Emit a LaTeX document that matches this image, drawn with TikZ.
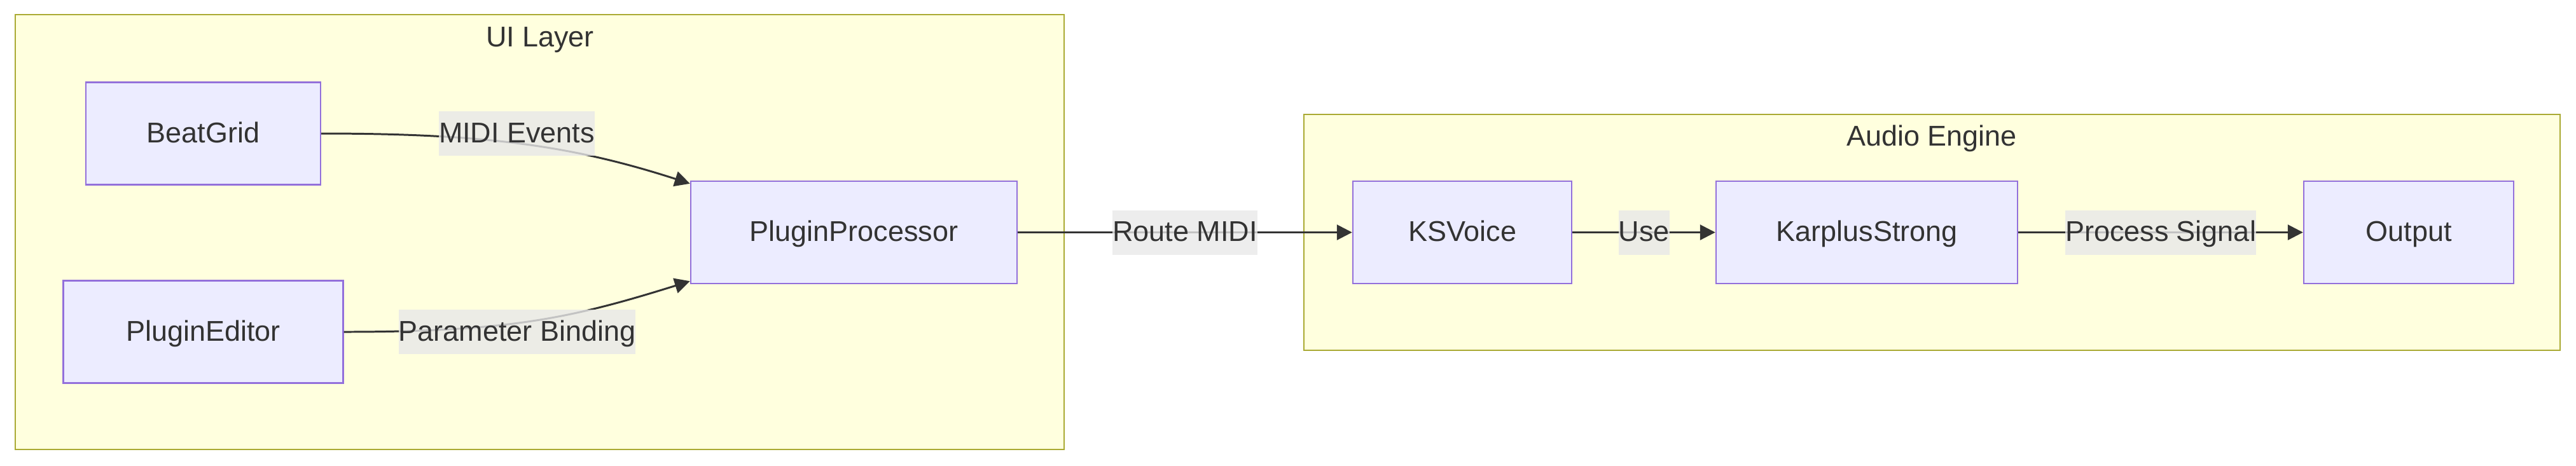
\documentclass[tikz,border=0pt]{standalone}
\usepackage{fontspec}
\setmainfont{Liberation Sans}
\usepackage{tikz}
\usetikzlibrary{arrows.meta}
\definecolor{rahmen}{HTML}{AAAA33}
\definecolor{rahmenfill}{HTML}{FFFFDE}
\definecolor{knoten}{HTML}{9370DB}
\definecolor{knotenfill}{HTML}{ECECFF}
\definecolor{schrift}{HTML}{333333}
\definecolor{labelfill}{HTML}{E8E8E8}
\newcommand{\schriftgrad}{\fontsize{12.8}{15}\selectfont}
\tikzset{
  gruppe/.style={draw=rahmen,fill=rahmenfill,line width=0.75pt},
  titel/.style={text=schrift,font=\schriftgrad,inner sep=0pt,text height=10pt,text depth=2pt},
  kasten/.style={draw=knoten,fill=knotenfill,line width=0.7pt,text=schrift,font=\schriftgrad,minimum height=1.61cm,inner sep=0pt,text height=10pt,text depth=2pt},
  kante/.style={draw=schrift,line width=0.85pt,-{Triangle[length=0.24cm,width=0.24cm]}},
  beschriftung/.style={fill=labelfill,fill opacity=0.8,text opacity=1,text=schrift,font=\schriftgrad,inner sep=0pt,minimum height=0.7cm,text height=10pt,text depth=2pt}
}

\begin{document}
\begin{tikzpicture}
  \useasboundingbox (0,0) rectangle (40.5,-7.32);
  % Subgraphs
  \draw[gruppe] (0.24,-0.23) rectangle (16.73,-7.07);
  \draw (8.49,-0.59) node[titel] (ui-layer) {UI Layer};
  \draw[gruppe] (20.50,-1.80) rectangle (40.25,-5.51);
  \draw (30.37,-2.15) node[titel] (audio-engine) {Audio Engine};
  % Knoten
  \draw (3.195,-2.10) node[kasten,minimum width=3.69cm] (beatgrid) {BeatGrid}
  ++(0,-3.12) node[kasten,minimum width=4.40cm] (plugineditor) {PluginEditor};
  \draw (13.425,-3.655) node[kasten,minimum width=5.13cm] (processor) {PluginProcessor}
  ++(9.565,0) node[kasten,minimum width=3.44cm] (ksvoice) {KSVoice}
  ++(6.36,0) node[kasten,minimum width=4.74cm] (karplus) {KarplusStrong}
  ++(8.52,0) node[kasten,minimum width=3.30cm] (output) {Output};
  % Kanten
  \draw[kante] (beatgrid.east) .. controls +(2.56,0) and +(-1.86,0.60) .. ([yshift=-0.05cm]processor.north west);
  \draw[kante] (plugineditor.east) .. controls +(2.61,0) and +(-1.86,-0.58) .. ([yshift=0.05cm]processor.south west);
  \draw (8.125,-2.10) node[beschriftung] (midi-events) {MIDI Events};
  \draw (8.13,-5.22) node[beschriftung] (parameter-binding) {Parameter Binding};
  \draw[kante] (processor) -- node[beschriftung] (route-midi) {Route MIDI} (ksvoice);
  \draw[kante] (ksvoice) -- node[beschriftung] (use) {Use} (karplus);
  \draw[kante] (karplus) -- node[beschriftung] (process-signal) {Process Signal} (output);
\end{tikzpicture}
\end{document}
